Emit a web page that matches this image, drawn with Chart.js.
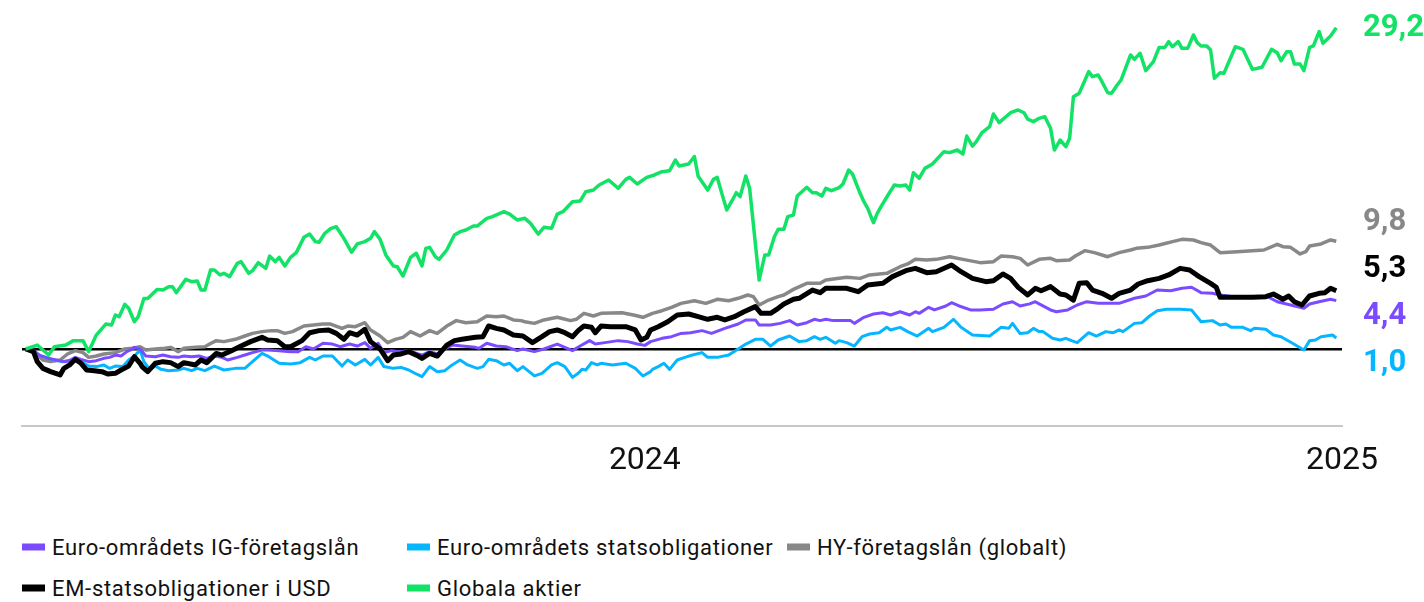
<!DOCTYPE html>
<html>
<head>
<meta charset="utf-8">
<script src="https://cdn.jsdelivr.net/npm/chart.js@4.4.1/dist/chart.umd.min.js"></script>
<style>
  html, body { margin: 0; padding: 0; background: #ffffff; width: 1424px; height: 602px; overflow: hidden; }
  #wrap { position: relative; width: 1424px; height: 602px; font-family: Roboto, "Liberation Sans", sans-serif; }
  #c { position: absolute; left: 0; top: 0; }
  .item { position: absolute; display: flex; align-items: center; font-size: 22px; letter-spacing: 0.7px; color: #111; white-space: nowrap; transform: translateY(-50%); }
  .sw { width: 23px; height: 7px; margin-right: 7px; }
</style>
</head>
<body>
<div id="wrap">
  <canvas id="c" width="1424" height="500"></canvas>
  <div id="legend"></div>
</div>
<script>
// x = days since 2023-01-01, y = cumulative return (%)
const tickDays = [365, 731];
const tickLabels = ['2024', '2025'];

const seriesNames = [
  'Euro-områdets IG-företagslån',
  'Euro-områdets statsobligationer',
  'HY-företagslån (globalt)',
  'EM-statsobligationer i USD',
  'Globala aktier'
];

const euroIG = [[40,0],[44,-0.09],[47,-0.55],[52,-0.85],[56,-1.0],[60,-1.15],[63,-1.06],[66,-0.76],[69,-0.94],[73,-1.15],[77,-1.06],[81,-0.85],[84,-0.76],[87,-0.55],[90,-0.64],[93,-0.24],[95,-0.09],[97,0.15],[100,0],[103,-0.64],[108,-0.7],[112,-0.55],[116,-0.7],[120,-0.76],[123,-0.64],[127,-0.7],[131,-0.64],[135,-0.85],[139,-0.64],[143,-0.76],[146,-1.0],[151,-0.76],[155,-0.55],[159,-0.33],[164,-0.09],[167,-0.09],[173,-0.15],[179,-0.24],[183,-0.24],[187,0.21],[191,0],[196,0.52],[201,0.45],[205,0.21],[210,0.45],[214,0.27],[218,0.58],[221,0.06],[225,0.52],[228,-0.33],[232,-0.15],[236,-0.24],[241,-0.15],[246,-0.45],[248,-0.55],[252,-0.24],[256,-0.45],[260,0],[264,0.36],[269,0.27],[276,0.15],[278,0.06],[282,0.52],[287,0.27],[292,0.21],[298,-0.15],[301,0],[307,-0.24],[312,0],[319,0.45],[323,0.15],[327,-0.15],[331,0.27],[336,0.76],[339,0.45],[344,0.58],[351,0.76],[356,0.67],[361,0.45],[365,0.33],[368,0.67],[374,0.97],[379,1.12],[384,1.42],[389,1.48],[395,1.67],[400,1.42],[407,1.88],[414,2.27],[418,2.64],[423,2.64],[425,2.18],[431,2.18],[436,2.33],[441,2.58],[445,2.18],[450,2.39],[454,2.7],[457,2.58],[460,2.7],[464,2.58],[473,2.58],[475,2.33],[480,2.88],[485,3.18],[490,3.3],[494,3.09],[499,3.39],[504,3.09],[507,3.39],[509,3.24],[514,3.79],[517,3.55],[523,3.91],[526,4.21],[530,3.91],[536,3.55],[541,3.55],[548,3.61],[553,4.09],[558,4.3],[562,3.91],[567,4.1],[570,4.3],[572,4.1],[578,3.55],[581,3.39],[587,3.55],[592,4.0],[597,4.3],[603,4.15],[609,4.15],[614,4.15],[622,4.61],[628,4.82],[634,5.36],[641,5.3],[647,5.52],[652,5.61],[657,5.12],[663,5.06],[667,4.91],[674,4.76],[684,4.76],[692,4.76],[697,4.3],[704,4.0],[711,3.7],[714,4.09],[719,4.3],[725,4.52],[728,4.4]];

const euroStat = [[40,0],[45,-0.33],[48,-0.64],[52,-0.85],[55,-1.0],[59,-1.15],[62,-1.06],[66,-0.94],[69,-1.15],[73,-1.55],[77,-1.6],[81,-1.45],[84,-1.76],[87,-1.55],[91,-1.6],[94,-1.0],[97,-0.64],[100,-0.1],[102,-1.15],[105,-1.85],[108,-1.55],[111,-1.85],[115,-1.97],[120,-1.91],[123,-1.76],[127,-1.97],[130,-1.76],[134,-1.97],[139,-1.55],[144,-1.91],[150,-1.76],[155,-1.76],[159,-1.15],[164,-0.4],[167,-0.64],[173,-1.3],[179,-1.36],[184,-1.24],[189,-0.76],[192,-1.0],[196,-0.64],[201,-0.64],[206,-1.55],[209,-1.0],[213,-1.45],[218,-0.94],[221,-1.45],[225,-0.76],[228,-1.6],[233,-1.76],[237,-1.67],[241,-1.91],[245,-2.27],[248,-2.52],[252,-1.6],[256,-2.06],[260,-1.97],[263,-1.55],[268,-1.0],[272,-1.45],[277,-1.76],[280,-1.6],[283,-0.94],[287,-1.06],[291,-1.45],[294,-1.3],[298,-1.97],[301,-1.6],[307,-2.45],[311,-2.21],[316,-1.45],[319,-1.24],[323,-1.6],[327,-2.58],[330,-2.21],[332,-1.85],[334,-1.91],[337,-1.24],[340,-1.45],[342,-1.3],[348,-1.45],[355,-1.3],[360,-1.76],[364,-2.45],[368,-2.06],[369,-1.85],[372,-1.6],[375,-1.3],[378,-1.85],[382,-1.0],[386,-0.76],[390,-0.55],[395,-0.33],[398,-0.76],[403,-0.76],[409,-0.55],[414,0],[418,0.45],[423,0.88],[427,0.88],[431,0.27],[435,0.82],[441,1.18],[446,0.67],[450,0.76],[454,1.12],[457,0.88],[460,1.06],[465,0.52],[467,0.76],[471,0.58],[475,0.27],[479,1.12],[483,1.36],[488,1.48],[492,1.97],[494,1.73],[499,1.97],[503,1.58],[508,1.18],[514,1.88],[516,1.58],[522,1.97],[527,2.7],[531,1.97],[537,1.27],[546,1.18],[552,1.97],[556,1.88],[558,2.33],[562,1.4],[566,1.48],[569,1.88],[572,1.58],[574,1.58],[579,0.97],[583,0.82],[586,0.97],[589,0.76],[592,0.58],[598,1.48],[602,1.18],[607,1.58],[611,1.48],[614,1.73],[616,1.58],[622,2.33],[626,2.39],[630,3.0],[634,3.48],[639,3.61],[646,3.61],[652,3.55],[657,2.48],[663,2.58],[667,2.18],[670,2.27],[673,1.97],[679,1.97],[683,1.67],[685,1.88],[691,1.79],[695,1.27],[699,1.12],[705,0.52],[711,-0.09],[714,0.76],[717,0.82],[720,1.12],[726,1.27],[728,1.0]];

const hyGlobal = [[40,0],[45,-0.4],[49,-1.0],[53,-1.15],[58,-1.0],[62,-0.45],[66,-0.15],[70,-0.33],[73,-0.76],[77,-0.64],[81,-0.45],[87,-0.33],[92,0],[96,0.06],[100,0.2],[103,-0.09],[108,0],[113,0.06],[116,0.15],[120,-0.24],[123,0.06],[129,0.15],[134,0.2],[137,0.5],[140,0.76],[144,0.67],[150,0.88],[155,1.18],[159,1.42],[164,1.58],[169,1.67],[172,1.67],[176,1.42],[180,1.58],[186,2.09],[191,2.18],[196,2.27],[200,2.27],[206,1.88],[209,2.09],[213,2.03],[218,2.39],[221,1.73],[226,1.18],[230,0.58],[234,0.88],[238,1.06],[242,1.58],[247,1.18],[252,1.67],[256,1.42],[261,2.09],[266,2.58],[271,2.39],[277,2.48],[282,3.0],[287,2.94],[291,3.0],[296,2.64],[300,2.58],[302,2.48],[307,2.33],[312,2.64],[319,2.88],[326,2.58],[329,2.7],[333,3.24],[338,3.0],[342,3.24],[353,3.3],[359,3.09],[364,2.88],[369,3.24],[374,3.48],[379,3.79],[384,4.15],[391,4.39],[397,4.15],[403,4.52],[409,4.39],[414,4.61],[419,4.91],[422,4.76],[425,4.0],[430,4.45],[435,4.76],[438,4.91],[443,5.42],[450,5.97],[457,5.97],[460,6.27],[471,6.52],[478,6.42],[483,6.73],[492,6.88],[499,7.48],[503,7.73],[507,8.15],[513,8.09],[518,8.15],[525,8.39],[532,8.15],[541,7.85],[548,7.94],[552,8.45],[558,8.39],[562,8.24],[566,7.64],[572,8.15],[578,8.24],[581,8.03],[588,8.09],[591,8.45],[596,8.94],[601,8.76],[608,8.39],[614,8.76],[620,9.0],[623,9.15],[629,9.24],[635,9.45],[642,9.76],[647,9.97],[653,9.91],[657,9.67],[662,9.45],[667,8.76],[676,8.85],[690,9.0],[697,9.52],[700,9.3],[704,9.24],[709,8.64],[712,8.85],[714,9.36],[720,9.55],[725,9.91],[728,9.8]];

const emUsd = [[40,0],[44,-0.24],[46,-1.15],[49,-1.76],[53,-2.06],[58,-2.36],[60,-1.76],[63,-1.45],[66,-0.94],[69,-1.3],[72,-1.91],[76,-1.97],[80,-2.06],[83,-2.27],[87,-2.21],[90,-1.91],[94,-1.55],[97,-0.7],[100,-1.3],[101,-1.6],[104,-2.06],[108,-1.3],[112,-1.15],[116,-1.24],[120,-1.6],[123,-1.24],[129,-1.45],[132,-1.0],[135,-1.24],[140,-0.4],[143,-0.55],[148,-0.15],[153,0.27],[158,0.67],[164,1.06],[167,0.82],[172,0.76],[176,0.21],[179,0.21],[185,0.76],[189,1.48],[194,1.67],[199,1.73],[203,1.42],[207,0.88],[210,1.48],[214,1.27],[218,1.79],[221,0.67],[226,0],[230,-1.06],[233,-0.55],[237,-0.45],[241,-0.24],[246,-0.64],[248,-0.85],[252,-0.4],[256,-0.64],[261,0.36],[265,0.76],[269,0.88],[276,1.06],[280,1.12],[283,2.09],[287,1.88],[291,1.73],[296,1.27],[301,1.18],[306,0.58],[311,1.12],[315,1.58],[319,1.73],[323,1.48],[327,1.12],[330,1.67],[333,2.09],[337,1.97],[339,1.48],[342,2.09],[347,2.03],[355,2.03],[360,1.73],[363,0.82],[366,1.06],[368,1.73],[372,2.03],[377,2.48],[382,3.09],[388,3.18],[393,2.94],[398,2.7],[403,2.88],[407,2.64],[412,2.94],[417,3.39],[423,3.85],[426,3.24],[431,3.24],[435,3.7],[438,4.09],[443,4.52],[446,4.61],[453,5.36],[457,5.12],[460,5.52],[471,5.52],[477,5.21],[482,5.82],[490,5.97],[495,6.58],[502,7.12],[507,7.33],[513,6.94],[518,7.03],[526,7.64],[531,7.03],[537,6.42],[544,6.12],[548,6.21],[553,6.82],[557,6.42],[561,5.6],[566,4.91],[570,5.52],[573,5.3],[578,5.67],[583,5.0],[586,4.91],[590,4.45],[593,5.97],[597,6.03],[600,5.36],[605,5.06],[610,4.61],[614,5.06],[620,5.36],[624,5.91],[629,6.21],[635,6.42],[640,6.73],[646,7.33],[651,7.18],[656,6.58],[662,5.97],[665,5.61],[667,4.7],[676,4.7],[684,4.7],[691,4.76],[695,5.0],[700,4.52],[703,4.82],[706,4.3],[710,4.0],[714,4.82],[719,5.06],[722,5.12],[725,5.52],[728,5.3]];

const globalEquity = [[40,0],[46,0.36],[52,-0.55],[55,0.21],[61,0.36],[65,0.76],[70,0.76],[73,-0.24],[77,1.27],[82,2.27],[85,2.18],[87,3.09],[89,2.94],[92,4.06],[94,3.7],[97,2.48],[99,2.94],[102,4.6],[104,4.6],[109,5.42],[112,5.36],[115,5.67],[117,5.67],[119,5.12],[124,6.33],[127,6.12],[130,6.18],[132,5.36],[134,5.36],[137,7.18],[139,7.18],[142,6.73],[144,6.88],[147,6.58],[151,7.79],[153,7.94],[157,6.88],[159,7.12],[162,7.85],[166,7.33],[168,8.45],[171,7.94],[173,8.33],[176,7.55],[179,8.33],[182,8.76],[186,10.15],[189,10.45],[192,9.76],[194,9.7],[197,10.52],[200,10.94],[203,11.12],[207,10.06],[211,8.8],[214,9.55],[218,9.76],[221,10.06],[223,10.67],[226,9.97],[229,8.55],[233,7.55],[235,7.48],[238,6.64],[240,7.48],[242,8.33],[245,8.7],[248,7.55],[250,9.15],[252,9.24],[255,8.39],[257,8.15],[261,9.0],[265,10.36],[268,10.67],[271,10.82],[275,11.18],[277,11.18],[282,11.88],[285,12.03],[291,12.48],[294,12.27],[298,11.73],[302,11.88],[305,11.42],[309,10.45],[312,11.06],[316,10.97],[319,12.27],[322,12.48],[327,13.39],[331,13.45],[334,14.3],[338,14.45],[341,14.91],[346,15.36],[351,14.61],[355,15.42],[357,15.6],[361,15.0],[366,15.6],[370,15.82],[374,16.12],[378,16.21],[381,17.18],[383,16.64],[388,16.82],[391,17.5],[393,15.7],[398,14.45],[401,15.42],[403,15.6],[406,13.79],[408,12.64],[411,13.55],[413,14.21],[415,13.85],[418,15.73],[420,14.61],[425,6.27],[428,8.55],[430,8.55],[433,10.21],[435,10.88],[438,10.88],[440,12.03],[443,12.18],[445,13.91],[450,14.7],[453,14.21],[455,14.21],[458,13.91],[460,14.61],[463,14.39],[467,14.67],[469,15.0],[472,16.27],[474,15.91],[478,14.15],[480,13.39],[482,12.79],[485,11.48],[487,12.33],[489,12.94],[493,14.09],[496,14.91],[499,14.82],[502,14.91],[504,14.45],[506,16.03],[509,15.52],[512,16.42],[516,16.82],[522,17.94],[525,17.85],[529,18.09],[532,17.73],[534,19.36],[537,18.45],[539,18.85],[542,19.67],[546,20.21],[548,21.36],[551,20.58],[557,21.48],[561,21.73],[564,21.48],[566,20.9],[569,20.67],[572,20.97],[575,21.12],[578,20.06],[580,18.09],[583,19.0],[586,18.39],[588,19.15],[590,22.94],[593,23.24],[598,25.21],[600,24.76],[603,24.91],[605,24.3],[608,23.3],[610,23.24],[613,24.0],[615,24.45],[620,26.73],[622,26.33],[625,26.88],[628,25.3],[632,26.12],[635,27.42],[638,27.42],[640,27.94],[642,27.48],[645,27.94],[647,27.33],[650,27.33],[653,28.55],[655,27.85],[657,27.55],[660,27.55],[662,27.18],[664,24.61],[667,25.12],[669,25.06],[675,27.48],[679,27.24],[684,25.42],[689,25.61],[694,27.24],[697,26.94],[699,26.21],[702,27.03],[704,27.03],[706,25.91],[709,25.91],[711,25.3],[714,27.42],[716,27.55],[719,28.85],[721,27.79],[725,28.45],[728,29.2]];

const seriesData = [euroIG, euroStat, hyGlobal, emUsd, globalEquity];

// styles (kept apart from the data)
const styles = [
  { color: '#7b4cff', width: 3,   order: 2 },
  { color: '#05b6ff', width: 3,   order: 3 },
  { color: '#888888', width: 3.5, order: 4 },
  { color: '#000000', width: 5,   order: 1 },
  { color: '#12e266', width: 3.5, order: 0 }
];

const fmt = v => v.toFixed(1).replace('.', ',');

const datasets = seriesData.map((pts, i) => ({
  label: seriesNames[i],
  data: pts.map(p => ({ x: p[0], y: p[1] })),
  borderColor: styles[i].color,
  backgroundColor: styles[i].color,
  borderWidth: styles[i].width,
  order: styles[i].order,
  pointRadius: 0,
  pointHoverRadius: 0,
  tension: 0,
  fill: false,
  borderJoinStyle: 'round',
  borderCapStyle: 'butt'
}));

const endLabels = {
  id: 'endLabels',
  afterDatasetsDraw(chart) {
    const ctx = chart.ctx;
    const gap = 47;
    const items = chart.data.datasets.map((ds, i) => {
      const meta = chart.getDatasetMeta(i);
      const last = meta.data[meta.data.length - 1];
      return { y: last.y, text: fmt(ds.data[ds.data.length - 1].y), color: ds.borderColor };
    }).sort((a, b) => a.y - b.y);
    let groups = items.map(it => ({ items: [it], center: it.y }));
    let merged = true;
    while (merged) {
      merged = false;
      for (let g = 0; g < groups.length - 1; g++) {
        const a = groups[g], b = groups[g + 1];
        const aBottom = a.center + (a.items.length - 1) * gap / 2;
        const bTop = b.center - (b.items.length - 1) * gap / 2;
        if (bTop - aBottom < gap) {
          const all = a.items.concat(b.items);
          const c = all.reduce((s, it) => s + it.y, 0) / all.length;
          groups.splice(g, 2, { items: all, center: c });
          merged = true;
          break;
        }
      }
    }
    ctx.save();
    ctx.font = 'bold 31px Roboto, "Liberation Sans", sans-serif';
    ctx.textAlign = 'left';
    ctx.textBaseline = 'middle';
    const x = chart.chartArea.right + 21;
    groups.forEach(g => {
      const top = g.center - (g.items.length - 1) * gap / 2;
      g.items.forEach((it, k) => {
        ctx.fillStyle = it.color;
        ctx.fillText(it.text, x, top + k * gap);
      });
    });
    ctx.restore();
  }
};

new Chart(document.getElementById('c'), {
  type: 'line',
  data: { datasets },
  options: {
    responsive: false,
    animation: false,
    devicePixelRatio: 1,
    layout: { padding: { left: 22, right: 82, top: 19, bottom: 0 } },
    plugins: { legend: { display: false }, tooltip: { enabled: false } },
    scales: {
      x: {
        type: 'linear',
        min: 38,
        max: 731,
        grid: { display: false, drawTicks: false },
        border: { display: true, color: '#c8c8c8', width: 2 },
        afterBuildTicks: s => { s.ticks = tickDays.map(v => ({ value: v })); },
        afterFit: s => { s.height = 74; },
        ticks: {
          autoSkip: false, maxRotation: 0, minRotation: 0,
          padding: 16,
          color: '#111111',
          font: { family: 'Roboto, "Liberation Sans", sans-serif', size: 32, weight: '400' },
          callback: (v) => tickLabels[tickDays.indexOf(v)]
        }
      },
      y: {
        min: -7,
        max: 30,
        border: { display: false },
        grid: {
          drawTicks: false,
          lineWidth: 2.5,
          color: c => (c.tick && c.tick.value === 0) ? '#000000' : 'rgba(0,0,0,0)'
        },
        afterBuildTicks: s => { s.ticks = [{ value: 0 }]; },
        afterFit: s => { s.width = 0; },
        ticks: { display: false }
      }
    }
  },
  plugins: [endLabels]
});

// HTML legend
const legendSlots = [
  { col: 0, row: 0 }, { col: 1, row: 0 }, { col: 2, row: 0 },
  { col: 0, row: 1 }, { col: 1, row: 1 }
];
const colX = [22, 407, 787];
const rowY = [547, 588];
const legend = document.getElementById('legend');
seriesNames.forEach((name, i) => {
  const d = document.createElement('div');
  d.className = 'item';
  d.style.left = colX[legendSlots[i].col] + 'px';
  d.style.top = rowY[legendSlots[i].row] + 'px';
  const sw = document.createElement('span');
  sw.className = 'sw';
  sw.style.background = styles[i].color;
  const t = document.createElement('span');
  t.textContent = name;
  d.appendChild(sw);
  d.appendChild(t);
  legend.appendChild(d);
});
</script>
</body>
</html>
